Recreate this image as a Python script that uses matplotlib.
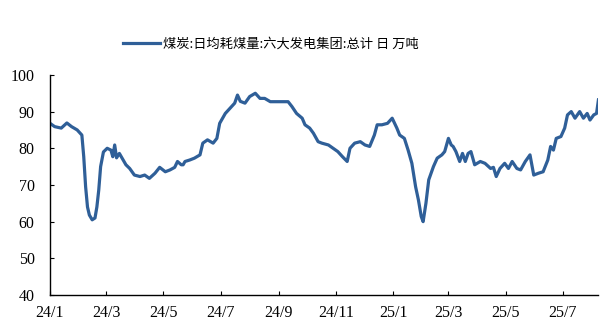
import pandas as pd
from matplotlib import pyplot as plt

# daily coal burn of the six big power groups, 10k tonnes
dates = [
    '2024-01-01', '2024-01-06', '2024-01-13', '2024-01-19', '2024-01-24', '2024-01-30',
    '2024-02-04', '2024-02-06', '2024-02-08', '2024-02-10', '2024-02-12', '2024-02-15',
    '2024-02-18', '2024-02-20', '2024-02-22', '2024-02-24', '2024-02-27', '2024-03-02',
    '2024-03-06', '2024-03-08', '2024-03-10', '2024-03-12', '2024-03-15', '2024-03-19',
    '2024-03-22', '2024-03-26', '2024-03-31', '2024-04-06', '2024-04-11', '2024-04-16',
    '2024-04-22', '2024-04-27', '2024-05-03', '2024-05-08', '2024-05-13', '2024-05-16',
    '2024-05-20', '2024-05-22', '2024-05-24', '2024-05-29', '2024-06-03', '2024-06-09',
    '2024-06-12', '2024-06-17', '2024-06-23', '2024-06-27', '2024-06-30', '2024-07-06',
    '2024-07-11', '2024-07-16', '2024-07-19', '2024-07-22', '2024-07-27', '2024-08-01',
    '2024-08-07', '2024-08-12', '2024-08-17', '2024-08-23', '2024-08-28', '2024-09-02',
    '2024-09-11', '2024-09-15', '2024-09-20', '2024-09-26', '2024-09-29', '2024-10-04',
    '2024-10-08', '2024-10-13', '2024-10-17', '2024-10-24', '2024-10-29', '2024-11-03',
    '2024-11-08', '2024-11-13', '2024-11-16', '2024-11-21', '2024-11-27', '2024-12-02',
    '2024-12-07', '2024-12-12', '2024-12-15', '2024-12-20', '2024-12-26', '2024-12-31',
    '2025-01-05', '2025-01-08', '2025-01-13', '2025-01-17', '2025-01-21', '2025-01-25',
    '2025-01-28', '2025-01-31', '2025-02-02', '2025-02-05', '2025-02-08', '2025-02-13',
    '2025-02-17', '2025-02-22', '2025-02-25', '2025-03-01', '2025-03-04', '2025-03-06',
    '2025-03-09', '2025-03-13', '2025-03-16', '2025-03-19', '2025-03-22', '2025-03-25',
    '2025-03-29', '2025-04-04', '2025-04-09', '2025-04-15', '2025-04-18', '2025-04-21',
    '2025-04-25', '2025-04-30', '2025-05-04', '2025-05-08', '2025-05-13', '2025-05-17',
    '2025-05-22', '2025-05-27', '2025-05-31', '2025-06-05', '2025-06-10', '2025-06-15',
    '2025-06-18', '2025-06-21', '2025-06-24', '2025-06-29', '2025-07-03', '2025-07-06',
    '2025-07-10', '2025-07-14', '2025-07-19', '2025-07-23', '2025-07-27', '2025-07-30',
    '2025-08-03', '2025-08-06', '2025-08-08',
]
values = [
    86.8, 85.9, 85.5, 86.9, 85.9, 85.0,
    83.6, 77.7, 69.5, 64.0, 61.8, 60.5,
    61.0, 64.0, 68.6, 75.0, 79.0, 80.0,
    79.5, 77.7, 80.9, 77.4, 78.6, 76.8,
    75.5, 74.5, 72.7, 72.3, 72.7, 71.8,
    73.2, 74.8, 73.6, 74.1, 74.8, 76.4,
    75.5, 75.5, 76.4, 76.8, 77.3, 78.2,
    81.4, 82.3, 81.4, 82.7, 86.8, 89.5,
    90.9, 92.3, 94.5, 92.8, 92.3, 94.1,
    95.0, 93.6, 93.6, 92.7, 92.7, 92.7,
    92.7, 91.4, 89.5, 88.2, 86.4, 85.5,
    84.1, 81.8, 81.4, 80.9, 80.0, 79.1,
    77.7, 76.4, 80.0, 81.4, 81.8, 80.9,
    80.5, 83.6, 86.4, 86.4, 86.8, 88.2,
    85.5, 83.6, 82.7, 79.5, 75.9, 69.5,
    65.9, 61.4, 60.0, 65.0, 71.4, 75.0,
    77.3, 78.2, 79.1, 82.7, 80.9, 80.5,
    79.1, 76.4, 78.6, 76.4, 78.6, 79.1,
    75.5, 76.4, 75.9, 74.5, 74.8, 72.3,
    74.5, 75.9, 74.5, 76.4, 74.5, 74.1,
    76.4, 78.2, 72.7, 73.2, 73.6, 76.8,
    80.5, 79.5, 82.7, 83.2, 85.5, 89.1,
    90.0, 88.2, 90.0, 88.2, 89.5, 87.7,
    89.1, 89.5, 93.2,
]
series_name = '煤炭:日均耗煤量:六大发电集团:总计 日 万吨'
tick_dates = ['2024-01-01', '2024-03-01', '2024-05-01', '2024-07-01', '2024-09-01',
              '2024-11-01', '2025-01-01', '2025-03-01', '2025-05-01', '2025-07-01']
tick_labels = ['24/1', '24/3', '24/5', '24/7', '24/9', '24/11', '25/1', '25/3', '25/5', '25/7']

x = pd.to_datetime(dates)

fig = plt.figure(figsize=(6.06, 3.30), dpi=100)
ax = fig.add_axes([0.0825, 0.106, 0.905, 0.667])
line, = ax.plot(x, values, color='#2F5F98', linewidth=2.3, solid_joinstyle='round')

ax.set_ylim(40, 100)
ax.set_yticks(range(40, 101, 10))
ax.set_xlim(x[0], x[-1])
ax.set_xticks(pd.to_datetime(tick_dates))
ax.set_xticklabels(tick_labels)

for side in ['top', 'right']:
    ax.spines[side].set_visible(False)
for side in ['left', 'bottom']:
    ax.spines[side].set_linewidth(1.0)
    ax.spines[side].set_color('black')

ax.tick_params(axis='both', direction='in', length=3, width=0.8, colors='black')
ax.tick_params(axis='y', pad=11)
ax.tick_params(axis='x', pad=7)
for lbl in ax.get_xticklabels() + ax.get_yticklabels():
    lbl.set_fontfamily('Liberation Serif')
    lbl.set_fontsize(11.5)

fig.legend([line], [series_name], loc='center', bbox_to_anchor=(0.447, 0.867),
           frameon=False, handlelength=2.8, handletextpad=0.3,
           prop={'family': ['Noto Sans CJK SC', 'DejaVu Sans'], 'size': 9.5})

plt.savefig('out.png', dpi=100)
